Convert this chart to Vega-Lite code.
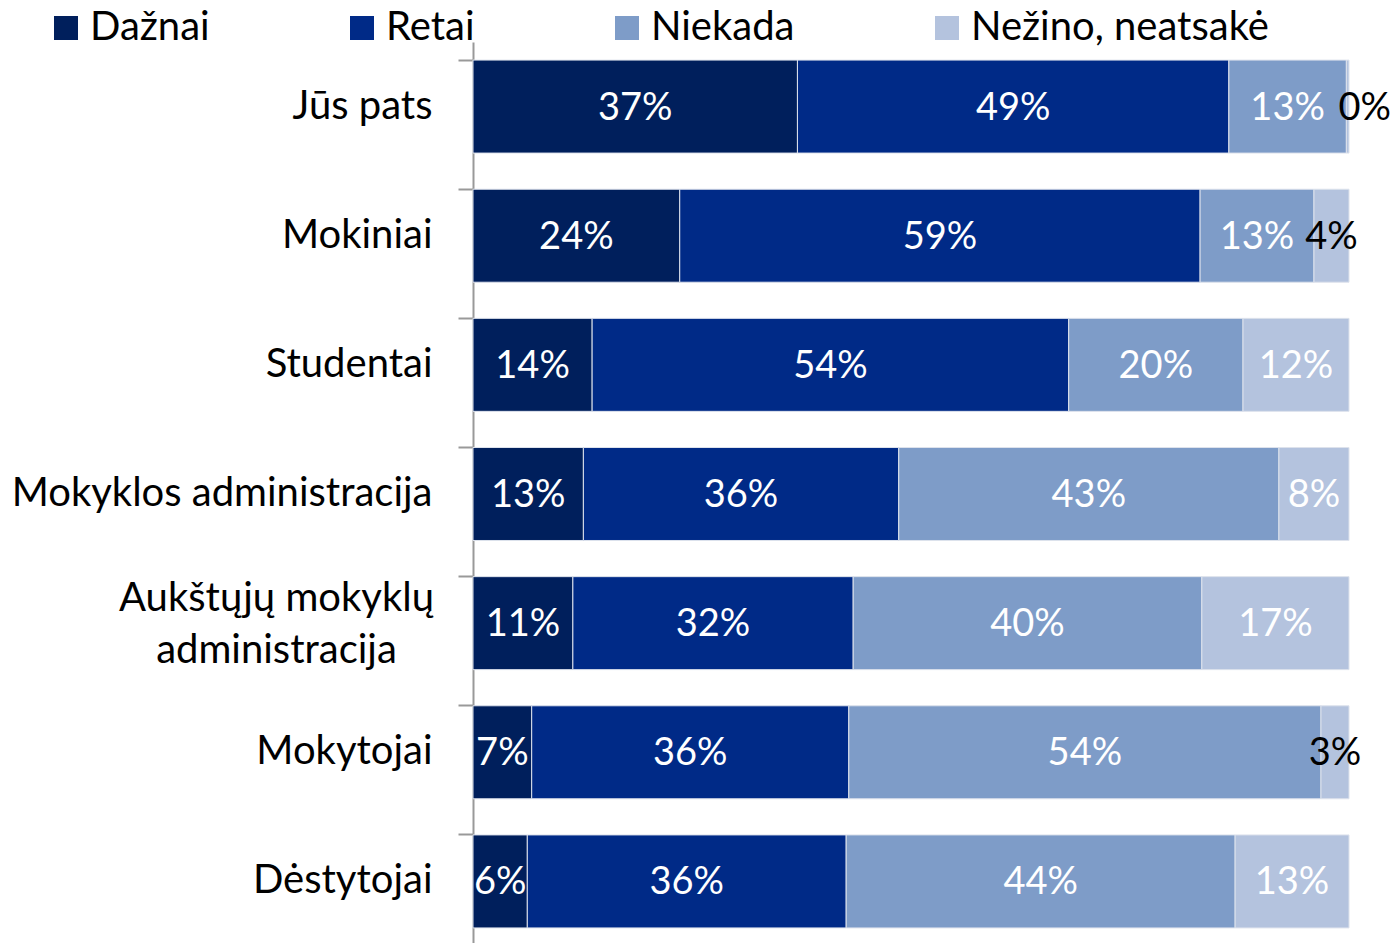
{
  "$schema": "https://vega.github.io/schema/vega-lite/v6.json",
  "width": 876,
  "height": 904,
  "autosize": "none",
  "padding": {"left": 473, "top": 42, "right": 49, "bottom": 0},
  "background": "white",
  "config": {"view": {"stroke": null}, "font": "Lato"},
  "data": {"values": [
    {"group": "Jūs pats", "answer": "Dažnai", "k": 1, "value": 0.37},
    {"group": "Jūs pats", "answer": "Retai", "k": 2, "value": 0.492},
    {"group": "Jūs pats", "answer": "Niekada", "k": 3, "value": 0.134},
    {"group": "Jūs pats", "answer": "Nežino, neatsakė", "k": 4, "value": 0.003},
    {"group": "Mokiniai", "answer": "Dažnai", "k": 1, "value": 0.236},
    {"group": "Mokiniai", "answer": "Retai", "k": 2, "value": 0.594},
    {"group": "Mokiniai", "answer": "Niekada", "k": 3, "value": 0.13},
    {"group": "Mokiniai", "answer": "Nežino, neatsakė", "k": 4, "value": 0.04},
    {"group": "Studentai", "answer": "Dažnai", "k": 1, "value": 0.136},
    {"group": "Studentai", "answer": "Retai", "k": 2, "value": 0.544},
    {"group": "Studentai", "answer": "Niekada", "k": 3, "value": 0.199},
    {"group": "Studentai", "answer": "Nežino, neatsakė", "k": 4, "value": 0.121},
    {"group": "Mokyklos administracija", "answer": "Dažnai", "k": 1, "value": 0.126},
    {"group": "Mokyklos administracija", "answer": "Retai", "k": 2, "value": 0.36},
    {"group": "Mokyklos administracija", "answer": "Niekada", "k": 3, "value": 0.434},
    {"group": "Mokyklos administracija", "answer": "Nežino, neatsakė", "k": 4, "value": 0.08},
    {"group": "Aukštųjų mokyklų administracija", "answer": "Dažnai", "k": 1, "value": 0.114},
    {"group": "Aukštųjų mokyklų administracija", "answer": "Retai", "k": 2, "value": 0.32},
    {"group": "Aukštųjų mokyklų administracija", "answer": "Niekada", "k": 3, "value": 0.398},
    {"group": "Aukštųjų mokyklų administracija", "answer": "Nežino, neatsakė", "k": 4, "value": 0.168},
    {"group": "Mokytojai", "answer": "Dažnai", "k": 1, "value": 0.067},
    {"group": "Mokytojai", "answer": "Retai", "k": 2, "value": 0.362},
    {"group": "Mokytojai", "answer": "Niekada", "k": 3, "value": 0.539},
    {"group": "Mokytojai", "answer": "Nežino, neatsakė", "k": 4, "value": 0.032},
    {"group": "Dėstytojai", "answer": "Dažnai", "k": 1, "value": 0.062},
    {"group": "Dėstytojai", "answer": "Retai", "k": 2, "value": 0.364},
    {"group": "Dėstytojai", "answer": "Niekada", "k": 3, "value": 0.444},
    {"group": "Dėstytojai", "answer": "Nežino, neatsakė", "k": 4, "value": 0.13}
  ]},
  "encoding": {
    "y": {
      "field": "group", "type": "nominal",
      "sort": ["Jūs pats", "Mokiniai", "Studentai", "Mokyklos administracija", "Aukštųjų mokyklų administracija", "Mokytojai", "Dėstytojai"],
      "scale": {"paddingInner": 0.28, "paddingOuter": 0.14},
      "axis": {
        "title": null,
        "bandPosition": 0,
        "domainColor": "#999999", "domainWidth": 2,
        "tickColor": "#999999", "tickWidth": 2, "tickSize": 15,
        "labelPadding": {"condition": {"test": "datum.value == 'Aukštųjų mokyklų administracija'", "value": 182}, "value": 26},
        "labelAlign": {"condition": {"test": "datum.value == 'Aukštųjų mokyklų administracija'", "value": "center"}, "value": "right"},
        "labelOffset": {"condition": {"test": "datum.value == 'Aukštųjų mokyklų administracija'", "value": -24}, "value": 0},
        "labelFont": "Lato", "labelFontSize": 40, "labelColor": "#000000",
        "labelLimit": 0, "labelLineHeight": 52,
        "labelExpr": "datum.value == 'Aukštųjų mokyklų administracija' ? ['Aukštųjų mokyklų', 'administracija'] : datum.value"
      }
    }
  },
  "layer": [
    {
      "mark": {"type": "bar", "stroke": "#dde2ec", "strokeWidth": 1},
      "encoding": {
        "x": {"field": "value", "type": "quantitative", "stack": "normalize", "scale": {"domain": [0, 1]}, "axis": null},
        "order": {"field": "k", "type": "quantitative"},
        "color": {
          "field": "answer", "type": "nominal",
          "scale": {"domain": ["Dažnai", "Retai", "Niekada", "Nežino, neatsakė"], "range": ["#001f5c", "#002a87", "#7e9cc8", "#b4c3de"]},
          "legend": {
            "title": null, "orient": "none", "direction": "horizontal",
            "legendX": -427, "legendY": -34,
            "symbolType": "square", "symbolSize": 576, "symbolStrokeWidth": 0,
            "labelFont": "Lato", "labelFontSize": 40, "labelColor": "#000000",
            "labelOffset": 4, "columnPadding": 132, "labelLimit": 0
          }
        }
      }
    },
    {
      "mark": {"type": "text", "font": "Lato", "fontSize": 38, "baseline": "middle", "align": "center", "dy": 2,
        "dx": {"expr": "datum.value < 0.01 ? 17 : 0"}},
      "encoding": {
        "x": {"field": "value", "type": "quantitative", "stack": "normalize", "bandPosition": 0.5},
        "order": {"field": "k", "type": "quantitative"},
        "text": {"field": "value", "type": "quantitative", "format": ".0%"},
        "color": {"condition": {"test": "datum.value < 0.05", "value": "#000000"}, "value": "#ffffff"}
      }
    }
  ]
}
